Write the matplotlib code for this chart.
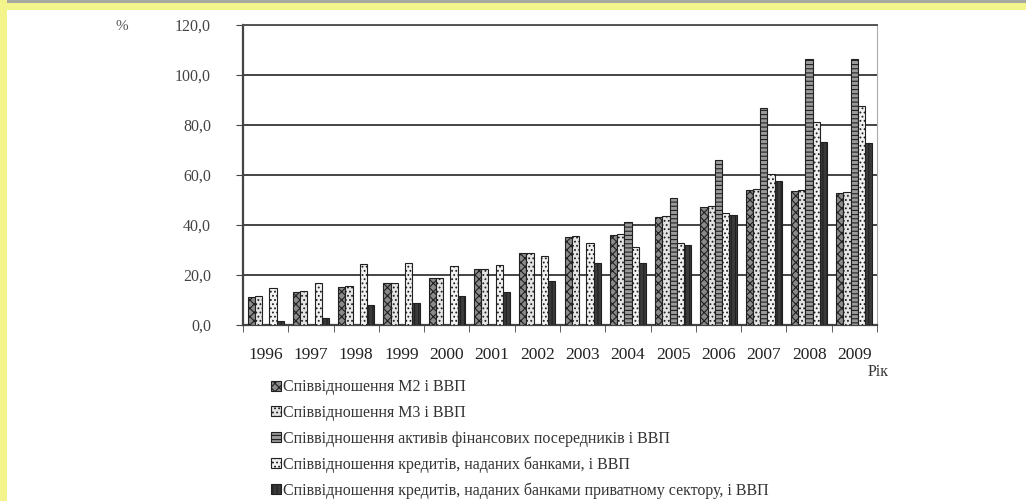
import numpy as np
import matplotlib.pyplot as plt
from matplotlib.patches import Rectangle

plt.rcParams['font.family'] = ['Liberation Serif', 'DejaVu Serif']
plt.rcParams['hatch.linewidth'] = 0.8

years = ['1996', '1997', '1998', '1999', '2000', '2001', '2002',
         '2003', '2004', '2005', '2006', '2007', '2008', '2009']
m2 = [11.3, 13.3, 15.3, 16.7, 18.7, 22.3, 28.7, 35.3, 36.0, 43.3, 47.3, 54.0, 53.6, 52.9]
m3 = [11.5, 13.5, 15.5, 17.0, 19.0, 22.5, 28.9, 35.5, 36.5, 43.7, 47.7, 54.5, 54.0, 53.2]
assets = [0, 0, 0, 0, 0, 0, 0, 0, 41.3, 50.7, 66.0, 86.7, 106.4, 106.4]
credits = [15.0, 17.0, 24.3, 25.0, 23.6, 24.0, 27.7, 33.0, 31.3, 33.0, 45.0, 60.4, 81.3, 87.6]
private = [1.5, 2.7, 8.0, 8.7, 11.6, 13.3, 17.5, 24.7, 25.0, 32.0, 44.0, 57.7, 73.3, 73.0]

labels = ['Співвідношення М2 і ВВП',
          'Співвідношення М3 і ВВП',
          'Співвідношення активів фінансових посередників і ВВП',
          'Співвідношення кредитів, наданих банками, і ВВП',
          'Співвідношення кредитів, наданих банками приватному сектору, і ВВП']
series = [m2, m3, assets, credits, private]
faces = ['#8a8a8a', '#e4e4e4', '#9a9a9a', '#f2f2f2', '#3a3a3a']
hatches = ['xxxx', '....', '----', '....', '||||']

fig = plt.figure(figsize=(10.26, 5.01), dpi=100)
fig.patch.set_facecolor('white')

# yellow frame of the slide
fig.add_artist(Rectangle((0, 1 - 10 / 501), 1, 10 / 501, transform=fig.transFigure,
                         facecolor='#f3f58c', edgecolor='none'))
fig.add_artist(Rectangle((0, 1 - 3 / 501), 1, 3 / 501, transform=fig.transFigure,
                         facecolor='#a8a8a0', edgecolor='none'))
fig.add_artist(Rectangle((0, 0), 7 / 1026, 1, transform=fig.transFigure,
                         facecolor='#f3f58c', edgecolor='none'))

ax = fig.add_axes([243 / 1026, (501 - 325) / 501, (877 - 243) / 1026, 300 / 501])
x = np.arange(len(years))
w = 0.16
for i, (vals, fc, h, lab) in enumerate(zip(series, faces, hatches, labels)):
    ax.bar(x + (i - 2) * w, vals, width=w, color=fc, edgecolor='#202020',
           hatch=h, linewidth=0.8, label=lab, zorder=3)

ax.set_xlim(-0.5, len(years) - 0.5)
ax.set_ylim(0, 120)
ax.set_yticks(np.arange(0, 121, 20))
ax.set_yticklabels([f'{v:.1f}'.replace('.', ',') for v in np.arange(0, 121, 20)],
                   fontsize=11.5, color='#444444')
ax.set_xticks(x)
ax.set_xticklabels(years, fontsize=12.5, color='#222222')
ax.set_xticks(np.arange(-0.5, len(years), 1), minor=True)
ax.tick_params(axis='x', which='major', length=0, pad=16)
ax.tick_params(axis='x', which='minor', length=5, color='#444444')
ax.tick_params(axis='y', length=5, color='#444444', pad=18)
ax.grid(axis='y', color='#444444', linewidth=1.4, zorder=0)
ax.spines['top'].set_color('#555555')
ax.spines['top'].set_linewidth(1.4)
ax.spines['right'].set_color('#aaaaaa')
ax.spines['left'].set_color('#444444')
ax.spines['left'].set_linewidth(1.6)
ax.spines['bottom'].set_color('#444444')
ax.spines['bottom'].set_linewidth(1.6)

fig.text(122 / 1026, 1 - 27 / 501, '%', fontsize=11, color='#555555',
         ha='center', va='center')
fig.text(878 / 1026, 1 - 372 / 501, 'Рік', fontsize=11.5, color='#333333',
         ha='center', va='center')

handles, labs = ax.get_legend_handles_labels()
leg = fig.legend(handles, labs, loc='upper left',
                 bbox_to_anchor=(265 / 1026, 1 - 373 / 501),
                 frameon=False, fontsize=11.5, handlelength=0.6, handleheight=0.6,
                 handletextpad=0.15, labelspacing=0.6, borderaxespad=0)
for t in leg.get_texts():
    t.set_color('#333333')

fig.savefig('out.png', dpi=100)
